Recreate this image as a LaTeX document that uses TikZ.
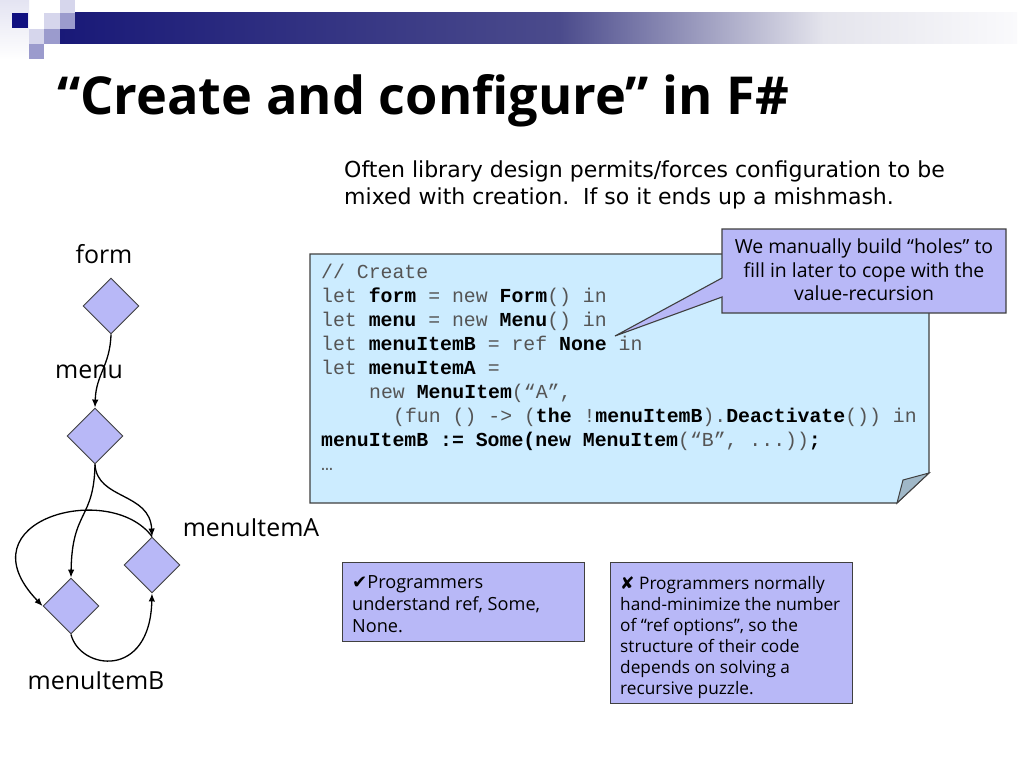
\documentclass[tikz,border=0pt]{standalone}
\usepackage{fontspec}
\setmainfont{DejaVu Sans}
\setmonofont{Liberation Mono}
\newfontfamily\comic{Open Sans}
\newfontfamily\symb{DejaVu Sans}
\usetikzlibrary{shapes.geometric,arrows.meta}
\definecolor{navy}{RGB}{16,16,128}
\definecolor{barA}{RGB}{25,25,120}
\definecolor{barB}{RGB}{75,75,140}
\definecolor{barC}{RGB}{228,228,236}
\definecolor{barD}{RGB}{250,250,252}
\definecolor{palesq}{RGB}{214,214,236}
\definecolor{palecol}{RGB}{228,228,242}
\definecolor{medsq}{RGB}{155,155,205}
\definecolor{lav}{RGB}{184,184,247}
\definecolor{codebg}{RGB}{204,236,255}
\definecolor{foldc}{RGB}{160,184,200}
\definecolor{edgec}{RGB}{64,64,64}
\definecolor{codegray}{RGB}{85,85,85}
\newcommand\cb[1]{\textcolor{black}{\bfseries #1}}
\tikzset{
  codeline/.style={anchor=base west, inner sep=0pt, text=codegray,
    font=\ttfamily\fontsize{19.9}{24}\selectfont},
  dnode/.style={diamond, draw=edgec, line width=0.9bp, fill=lav,
    minimum width=56bp, minimum height=56bp, inner sep=0pt},
  glabel/.style={anchor=base, inner sep=0pt, font=\comic\fontsize{25}{28}\selectfont},
  arr/.style={line width=1.3bp, -{Latex[length=8bp,width=6.5bp]}},
  notebox/.style={draw=edgec, line width=1.1bp, fill=lav, anchor=north west,
    inner sep=0pt},
  notetext/.style={anchor=north west, inner sep=0pt, align=left},
}
\begin{document}
\begin{tikzpicture}[x=1bp,y=-1bp]
\useasboundingbox (0,0) rectangle (1024,767);
\fill[white] (0,0) rectangle (1024,767);
% banner
\shade[left color=barA, right color=barB] (60,13) rectangle (560,44);
\shade[left color=barB, right color=barC] (559.5,13) rectangle (824,44);
\shade[left color=barC, right color=barD] (823.5,13) rectangle (1017,44);
\shade[top color=palecol, bottom color=white] (0,0) rectangle (29,60);
\fill[navy] (12,13) rectangle (28,28);
\fill[palesq] (44,13) rectangle (60,29);
\fill[medsq] (60,13) rectangle (75,29);
\fill[palesq] (60,0) rectangle (75,13);
\fill[palesq] (29,29) rectangle (44,44);
\fill[medsq] (44,29) rectangle (60,44);
\fill[medsq] (29,44) rectangle (44,59);
% title
\node[anchor=base west, inner sep=0pt, font=\comic\bfseries\fontsize{52.5}{56}\selectfont]
  (title) at (57,114) {“Create and configure” in F\#};
% intro
\node[anchor=base west, inner sep=0pt, font=\fontsize{22.1}{27}\selectfont]
  (intro1) at (344,177) {Often library design permits/forces configuration to be};
\node[anchor=base west, inner sep=0pt, font=\fontsize{22.1}{27}\selectfont]
  (intro2) at (344,204) {mixed with creation.\ \ If so it ends up a mishmash.};
% code box
\filldraw[fill=codebg, draw=edgec, line width=1.1bp]
  (310,254) -- (929,254) -- (929,473) -- (897,503) -- (310,503) -- cycle;
\filldraw[fill=foldc, draw=edgec, line width=1bp]
  (929,473) -- (903,480) -- (897,503) -- cycle;
\node[codeline] (c1) at (321,278) {// Create};
\node[codeline] (c2) at (321,302) {let \cb{form} = new \cb{Form}() in};
\node[codeline] (c3) at (321,326) {let \cb{menu} = new \cb{Menu}() in};
\node[codeline] (c4) at (321,350) {let \cb{menuItemB} = ref \cb{None} in};
\node[codeline] (c5) at (321,374) {let \cb{menuItemA} =};
\node[codeline] (c6) at (369,398) {new \cb{MenuItem}(“A”,};
\node[codeline] (c7) at (393,422) {(fun () -> (\cb{the} !\cb{menuItemB}).\cb{Deactivate}()) in};
\node[codeline] (c8) at (321,446) {\cb{menuItemB := Some(new MenuItem}(“B”, ...))\cb{;}};
\node[codeline] (c9) at (321,470) {…};
% callout
\filldraw[fill=lav, draw=edgec, line width=1.1bp]
  (722,229) -- (1006,229) -- (1006,313) -- (722,313) -- (722,297)
  -- (615,336) -- (722,278) -- cycle;
\node[anchor=north, inner sep=0pt, align=center,
  font=\comic\fontsize{19.5}{23.5}\selectfont] (callout) at (864,239)
  {We manually build “holes” to\\fill in later to cope with the\\value-recursion};
% graph
\node[dnode] (dform) at (111,306) {};
\node[dnode] (dmenu) at (95,436) {};
\node[dnode] (dA) at (152,565) {};
\node[dnode] (dB) at (71,606) {};
\node[glabel] (lform) at (104,263) {form};
\node[glabel] (lmenu) at (89,378) {menu};
\node[glabel] (lA) at (251,536) {menuItemA};
\node[glabel] (lB) at (96,689) {menuItemB};
\draw[arr] (dform.south) .. controls (110,366) and (96,374) .. (dmenu.north);
\draw[arr] (dmenu.south) .. controls (94,520) and (72,510) .. (dB.north);
\draw[arr] (dmenu.south) .. controls (97,500) and (150,492) .. (dA.north);
\draw[arr] (dA.north) .. controls (110,480) and (-40,520) .. (dB.west);
\draw[arr] (dB.south) .. controls (80,670) and (150,680) .. (dA.south);
% notes
\node[notebox, minimum width=242bp, minimum height=79bp] (box1) at (342,562) {};
\node[notetext, font=\comic\fontsize{18.2}{21.8}\selectfont] (t1) at (352,575.5)
  {{\symb ✔}Programmers\\understand ref, Some,\\None.};
\node[notebox, minimum width=242bp, minimum height=141bp] (box2) at (610,562) {};
\node[notetext, font=\comic\fontsize{17.3}{21.2}\selectfont] (t2) at (620,576)
  {{\symb ✘}\ Programmers normally\\hand-minimize the number\\of “ref options”, so the\\structure of their code\\depends on solving a\\recursive puzzle.};
\end{tikzpicture}
\end{document}
